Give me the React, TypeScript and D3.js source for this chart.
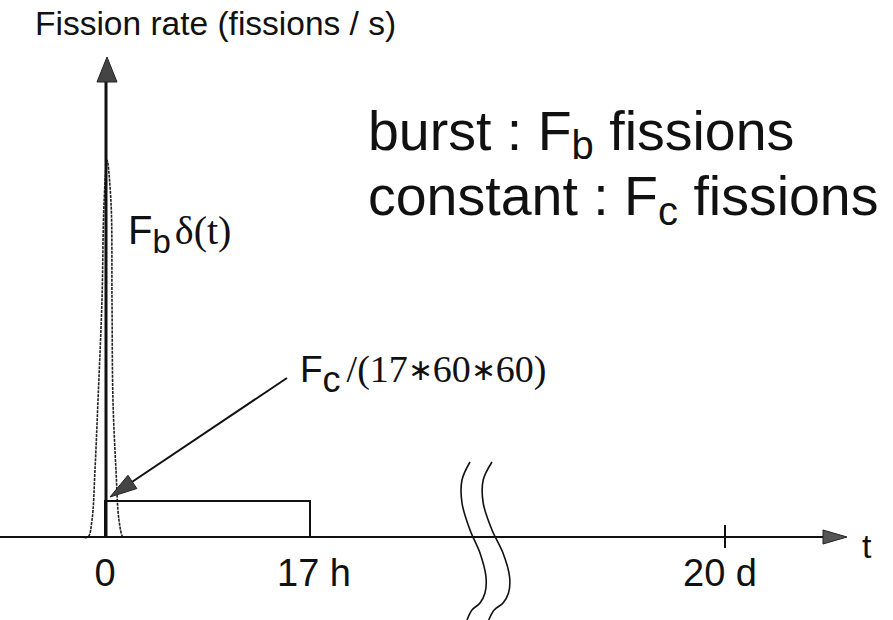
import React from "react";
import * as d3 from "d3";

// time axis: hours, with a break between 17 h and 20 d (= 480 h)
const tickTimes = [0, 17, 480];
const tickLabels = ["0", "17 h", "20 d"];

// burst pulse (hours, rate in arbitrary units 0..100)
const burstT = [-2.0, -1.41, -1.08, -0.83, -0.58, -0.25, -0.08, 0.17, 0.5, 0.58, 0.66, 0.91, 1.16, 1.49, 1.7];
const burstRate = [0, 0, 3.5, 14, 28.5, 49.4, 69.6, 78.5, 69.6, 49.4, 28.5, 14, 3.5, 0, 0];

// constant irradiation: 0 .. 17 h
const constStart = 0;
const constEnd = 17;
const constRate = 7.5;

const W = 893;
const H = 620;
const sans = "'Liberation Sans', Arial, sans-serif";
const serif = "'Liberation Serif', 'Times New Roman', serif";

// axis break squiggles, offsets relative to break position / axis line
const breakShape: [number, number][] = [
  [0, -75], [-8, -57], [-8, -34], [0, -7], [10, 16], [16, 40], [15, 56], [10, 66], [2, 73], [-3, 83],
];

function arrowHead(x1: number, y1: number, x2: number, y2: number, len: number, half: number) {
  const dx = x2 - x1;
  const dy = y2 - y1;
  const d = Math.hypot(dx, dy);
  const ux = dx / d;
  const uy = dy / d;
  const bx = x2 - ux * len;
  const by = y2 - uy * len;
  return `M${x2},${y2}L${bx - uy * half},${by + ux * half}L${bx + uy * half},${by - ux * half}Z`;
}

export default function App() {
  const x = d3.scaleLinear().domain(tickTimes).range([105, 310, 725]);
  const y = d3.scaleLinear().domain([0, 100]).range([537, 57]);

  const axisY = y(0);
  const x0 = x(0);
  const xEnd = 823;
  const yTop = 82;

  const burst = d3
    .line<number>()
    .x((_, i) => x(burstT[i]))
    .y((d) => y(d))
    .curve(d3.curveCatmullRom)(burstRate);

  const squiggle = d3
    .line<[number, number]>()
    .x((d) => d[0])
    .y((d) => d[1])
    .curve(d3.curveCatmullRom);

  const breakX = 470;
  const break1 = squiggle(breakShape.map(([dx, dy]) => [breakX + dx, axisY + dy]));
  const break2 = squiggle(breakShape.map(([dx, dy]) => [breakX + 22 + dx * 1.1, axisY + dy]));

  // annotation arrow for the constant rate
  const tipX = x(constStart) + 5;
  const tipY = y(constRate) - 4;
  const fromX = 287;
  const fromY = 378;

  return (
    <svg width={W} height={H} style={{ display: "block", background: "#fff" }}>
      <style>{`body{margin:0}`}</style>

      {/* title */}
      <text x={35} y={35} fontFamily={sans} fontSize={33.5} fill="#111">
        Fission rate (fissions / s)
      </text>

      {/* burst pulse */}
      <path d={burst ?? ""} fill="none" stroke="#222" strokeWidth={1.6} strokeDasharray="3 1" />

      {/* constant block */}
      <rect
        x={x(constStart)}
        y={y(constRate)}
        width={x(constEnd) - x(constStart)}
        height={y(0) - y(constRate)}
        fill="none"
        stroke="#111"
        strokeWidth={2}
      />

      {/* x axis */}
      <line x1={0} x2={xEnd} y1={axisY} y2={axisY} stroke="#111" strokeWidth={2} />
      <path d={`M${xEnd},${axisY - 7}L${xEnd + 24},${axisY}L${xEnd},${axisY + 7}Z`} fill="#555" stroke="#222" strokeWidth={1} />
      <text x={862} y={558} fontFamily={sans} fontSize={34} fill="#111">t</text>

      {/* tick at 20 d */}
      <line x1={x(480)} x2={x(480)} y1={axisY - 12} y2={axisY + 11} stroke="#111" strokeWidth={2} />

      {tickTimes.map((t, i) => (
        <text
          key={tickLabels[i]}
          x={x(t) + (i === 1 ? 4 : i === 2 ? -5 : 0)}
          y={586}
          textAnchor="middle"
          fontFamily={sans}
          fontSize={38}
          fill="#111"
        >
          {tickLabels[i]}
        </text>
      ))}

      {/* axis break */}
      <path d={break1 ?? ""} fill="none" stroke="#111" strokeWidth={1.6} />
      <path d={break2 ?? ""} fill="none" stroke="#111" strokeWidth={1.6} />

      {/* y axis (also the delta spike) */}
      <line x1={x0 + 1} x2={x0 + 1} y1={axisY} y2={yTop} stroke="#111" strokeWidth={3} />
      <path d={`M${x0 + 2},${y(100)}L${x0 + 12},${yTop}L${x0 - 8},${yTop}Z`} fill="#444" stroke="#222" strokeWidth={1} />

      {/* F_b delta(t) */}
      <text x={128} y={244} fontFamily={sans} fontSize={40} fill="#111">
        F
        <tspan fontSize={33} dy={9}>b</tspan>
        <tspan fontFamily={serif} fontSize={40} dy={-9} dx={4}>δ(t)</tspan>
      </text>

      {/* F_c annotation */}
      <line x1={fromX} y1={fromY} x2={tipX + 10} y2={tipY - 7} stroke="#111" strokeWidth={2} />
      <path d={arrowHead(fromX, fromY, tipX, tipY, 27, 8)} fill="#444" stroke="#222" strokeWidth={1} />
      <text x={300} y={382} fontFamily={sans} fontSize={37} fill="#111">
        F
        <tspan fontSize={36} dy={10}>c</tspan>
        <tspan fontFamily={serif} fontSize={38} dy={-10} dx={6}>/(17</tspan>
        <tspan fontFamily={serif} fontSize={30} dy={-2}>∗</tspan>
        <tspan fontFamily={serif} fontSize={38} dy={2}>60</tspan>
        <tspan fontFamily={serif} fontSize={30} dy={-2}>∗</tspan>
        <tspan fontFamily={serif} fontSize={38} dy={2}>60)</tspan>
      </text>

      {/* legend text */}
      <text x={368} y={150} fontFamily={sans} fontSize={55.5} fill="#111">
        burst : F
        <tspan fontSize={40} dy={9}>b</tspan>
        <tspan dy={-9}> fissions</tspan>
      </text>
      <text x={368} y={215} fontFamily={sans} fontSize={55.5} fill="#111">
        constant : F
        <tspan fontSize={40} dy={10}>c</tspan>
        <tspan dy={-10}> fissions</tspan>
      </text>
    </svg>
  );
}
